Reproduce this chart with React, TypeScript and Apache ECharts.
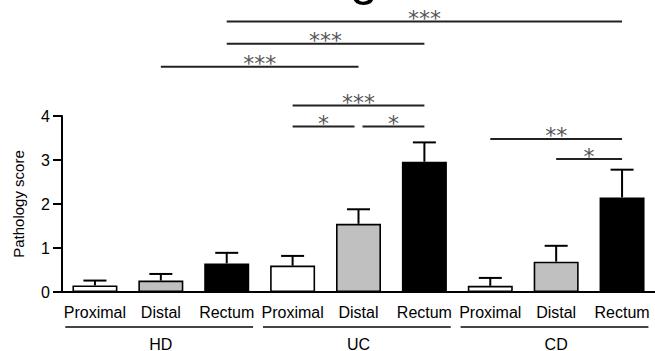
import React, { useEffect, useRef } from "react";
import * as echarts from "echarts";

const categories = ["Proximal", "Distal", "Rectum", "Proximal", "Distal", "Rectum", "Proximal", "Distal", "Rectum"];
const groups = ["HD", "UC", "CD"];
const groupStart = [0, 3, 6];
const groupEnd = [2, 5, 8];
const means = [0.15, 0.26, 0.65, 0.6, 1.55, 2.96, 0.14, 0.69, 2.15];
const errTops = [0.26, 0.41, 0.89, 0.82, 1.88, 3.4, 0.32, 1.05, 2.78];
const regionColors = ["#ffffff", "#c0c0c0", "#000000"];
const yMin = 0;
const yMax = 4;
const yInterval = 1;

const bracketFrom = [2, 2, 1, 3, 3, 4, 6, 7];
const bracketTo = [8, 5, 4, 5, 4, 5, 8, 8];
const bracketLevel = [6.15, 5.64, 5.12, 4.24, 3.76, 3.76, 3.48, 3.02];
const bracketLabel = ["***", "***", "***", "***", "*", "*", "**", "*"];

const FONT = "'Liberation Sans', Arial, Helvetica, sans-serif";

export default function App() {
  const ref = useRef<HTMLDivElement>(null);
  useEffect(() => {
    if (!ref.current) return;
    const chart = echarts.init(ref.current, undefined, { renderer: "svg" });
    const option: any = {
      animation: false,
      backgroundColor: "#ffffff",
      grid: { left: 62, top: 116, width: 595, height: 176, containLabel: false },
      graphic: [
        {
          type: "text",
          x: 364,
          y: -22,
          style: {
            text: "g",
            font: `50px ${FONT}`,
            fill: "#000",
            align: "center",
            verticalAlign: "middle",
          },
        },
      ],
      xAxis: {
        type: "category",
        data: categories,
        axisLine: { lineStyle: { color: "#000", width: 2 } },
        axisTick: { alignWithLabel: true, length: 9, lineStyle: { color: "#000", width: 2 } },
        axisLabel: { color: "#000", fontSize: 16, fontFamily: FONT, margin: 12, interval: 0 },
      },
      yAxis: {
        type: "value",
        min: yMin,
        max: yMax,
        interval: yInterval,
        name: "Pathology score",
        nameLocation: "middle",
        nameRotate: 90,
        nameGap: 36,
        nameTextStyle: { color: "#000", fontSize: 15, fontFamily: FONT },
        splitLine: { show: false },
        axisLine: { show: true, lineStyle: { color: "#000", width: 2 } },
        axisTick: { show: true, length: 9, lineStyle: { color: "#000", width: 2 } },
        axisLabel: { color: "#000", fontSize: 16, fontFamily: FONT, margin: 12 },
      },
      series: [
        {
          type: "bar",
          barWidth: 45,
          data: means.map((v, i) => ({
            value: v,
            itemStyle: { color: regionColors[i % 3], borderColor: "#000", borderWidth: 1.6 },
          })),
          z: 2,
        },
        {
          type: "custom",
          clip: false,
          z: 3,
          encode: { x: 0, y: 1 },
          data: means.map((v, i) => [i, v, errTops[i]]),
          renderItem: (params: any, api: any) => {
            const base = api.coord([api.value(0), api.value(1)]);
            const top = api.coord([api.value(0), api.value(2)]);
            const half = 11.5;
            return {
              type: "group",
              children: [
                { type: "line", shape: { x1: base[0], y1: base[1], x2: top[0], y2: top[1] }, style: { stroke: "#000", lineWidth: 2 } },
                { type: "line", shape: { x1: top[0] - half, y1: top[1], x2: top[0] + half, y2: top[1] }, style: { stroke: "#000", lineWidth: 2 } },
              ],
            };
          },
        },
        {
          type: "custom",
          clip: false,
          z: 3,
          encode: { x: 0, y: 2 },
          data: bracketFrom.map((f, i) => [f, bracketTo[i], bracketLevel[i]]),
          renderItem: (params: any, api: any) => {
            const i = params.dataIndex;
            const f = bracketFrom[i];
            const t = bracketTo[i];
            const lv = bracketLevel[i];
            const a = api.coord([f, lv]);
            const b = api.coord([t, lv]);
            let x1 = a[0];
            let x2 = b[0];
            for (let j = 0; j < bracketFrom.length; j++) {
              if (j === i || bracketLevel[j] !== lv) continue;
              if (bracketTo[j] === f) x1 += 4;
              if (bracketFrom[j] === t) x2 -= 4;
            }
            const y = a[1];
            return {
              type: "group",
              children: [
                { type: "line", shape: { x1, y1: y, x2, y2: y }, style: { stroke: "#222", lineWidth: 2 } },
                {
                  type: "text",
                  style: {
                    text: bracketLabel[i],
                    x: (x1 + x2) / 2,
                    y: y - 3,
                    align: "center",
                    verticalAlign: "middle",
                    font: "22px 'DejaVu Sans', sans-serif",
                    fill: "#555",
                  },
                },
              ],
            };
          },
        },
        {
          type: "custom",
          clip: false,
          z: 3,
          encode: { x: 0, y: 2 },
          data: groupStart.map((s, i) => [s, groupEnd[i], 0]),
          renderItem: (params: any, api: any) => {
            const i = params.dataIndex;
            const bw = api.size([1, 0])[0];
            const a = api.coord([groupStart[i], 0]);
            const b = api.coord([groupEnd[i], 0]);
            const x1 = a[0] - 0.45 * bw;
            const x2 = b[0] + 0.4 * bw;
            const y = a[1] + 35;
            return {
              type: "group",
              children: [
                { type: "line", shape: { x1, y1: y, x2, y2: y }, style: { stroke: "#444", lineWidth: 2 } },
                {
                  type: "text",
                  style: {
                    text: groups[i],
                    x: (a[0] + b[0]) / 2,
                    y: a[1] + 52,
                    align: "center",
                    verticalAlign: "middle",
                    font: `16px ${FONT}`,
                    fill: "#000",
                  },
                },
              ],
            };
          },
        },
      ],
    };
    chart.setOption(option);
    return () => chart.dispose();
  }, []);
  return (
    <div
      ref={ref}
      style={{ position: "fixed", left: 0, top: 0, width: 655, height: 351, background: "#fff" }}
    />
  );
}
